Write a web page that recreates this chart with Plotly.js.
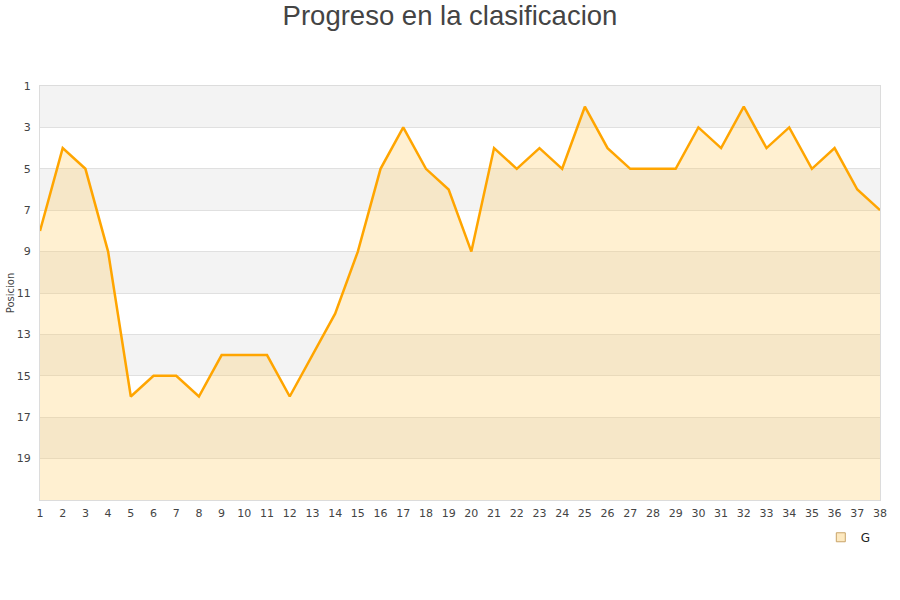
<!DOCTYPE html>
<html>
<head>
<meta charset="utf-8">
<script src="https://cdn.plot.ly/plotly-3.0.1.min.js"></script>
<style>html,body{margin:0;padding:0;background:#fff;}#chart{width:900px;height:600px;}</style>
</head>
<body>
<div id="chart"></div>
<script>
const jornadas = [1,2,3,4,5,6,7,8,9,10,11,12,13,14,15,16,17,18,19,20,21,22,23,24,25,26,27,28,29,30,31,32,33,34,35,36,37,38];
const posicion = [8,4,5,9,16,15,15,16,14,14,14,16,14,12,9,5,3,5,6,9,4,5,4,5,2,4,5,5,5,3,4,2,4,3,5,4,6,7];
const yTicks = [1,3,5,7,9,11,13,15,17,19];
const bandas = [[1,3],[5,7],[9,11],[13,15],[17,19]];
const fondo = 21;
const serieNombre = 'G';

const shapes = bandas.map(b => ({
  type:'rect', xref:'paper', yref:'y', x0:0, x1:1, y0:b[0], y1:b[1],
  fillcolor:'#f3f3f3', line:{width:0}, layer:'below'
}));

const traces = [
  {x:jornadas, y:jornadas.map(()=>fondo), mode:'lines', line:{width:0, color:'rgba(0,0,0,0)'}, showlegend:false, hoverinfo:'skip'},
  {x:jornadas, y:posicion, mode:'lines', name:serieNombre, fill:'tonexty', showlegend:false,
   fillcolor:'rgba(255,204,102,0.3)', line:{color:'#ffa500', width:2.5}},
  {x:[null], y:[null], mode:'markers', name:serieNombre, showlegend:true,
   marker:{symbol:'square', size:9, color:'#fde9c0', line:{color:'#c9a46a', width:1}}}
];

const layout = {
  width:900, height:600,
  margin:{l:40, r:20, t:86, b:100},
  paper_bgcolor:'#fff', plot_bgcolor:'#fff',
  title:{text:'Progreso en la clasificacion', font:{family:'Liberation Sans, Arial, sans-serif', size:27.5, color:'#444'}, x:0.5, y:0.975, yanchor:'middle'},
  font:{family:'DejaVu Sans, sans-serif', size:11, color:'#444'},
  xaxis:{range:[1,38], tickvals:jornadas, showgrid:false, zeroline:false, showline:true, linecolor:'#dcdcdc', mirror:true, ticks:'', ticklabelstandoff:3, tickfont:{size:11, color:'#444'}},
  yaxis:{range:[21,1], tickvals:yTicks, showgrid:true, gridcolor:'#e0e0e0', zeroline:false, showline:true, linecolor:'#dcdcdc', mirror:true, ticks:'', ticklabelstandoff:6, tickfont:{size:11, color:'#444'},
    title:{text:'Posicion', font:{size:10, color:'#444'}, standoff:0}},
  shapes:shapes,
  showlegend:true,
  legend:{orientation:'h', x:0.995, xanchor:'right', y:-0.09, yanchor:'middle', font:{size:12, color:'#222'}, bgcolor:'rgba(0,0,0,0)', itemwidth:30}
};

Plotly.newPlot('chart', traces, layout, {displayModeBar:false, staticPlot:true});
</script>
</body>
</html>
